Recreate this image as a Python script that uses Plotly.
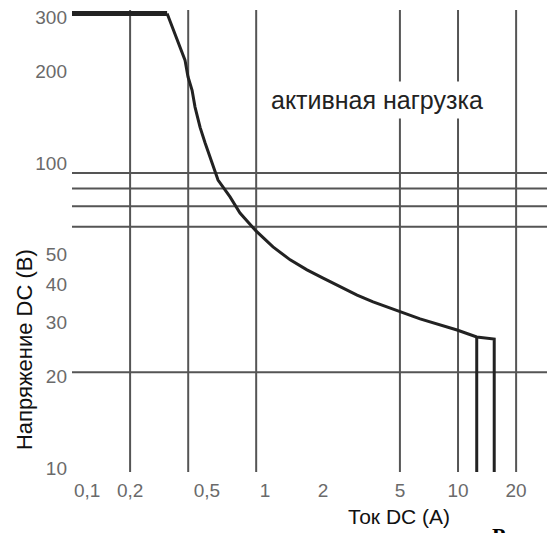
import plotly.graph_objects as go

# Data
current_A = [0.1, 0.311, 0.385, 0.399, 0.419, 0.434, 0.461, 0.489, 0.531, 0.571, 0.659,
             0.742, 0.898, 1.10, 1.35, 1.65, 2.00, 2.45, 3.00, 3.63, 4.44, 5.01, 6.36,
             9.89, 12.5, 15.4, 15.4]
voltage_V = [300, 300, 211, 186, 168, 148, 127, 113, 97.0, 85.3, 75.1,
             66.5, 58.1, 51.5, 46.7, 43.3, 40.7, 38.1, 35.8, 34.0, 32.5, 31.5, 29.9,
             27.5, 26.1, 25.7, 9.4]
branch_A = [12.5, 12.5]
branch_V = [26.1, 9.4]

x_tick_vals = [0.2, 0.5, 1, 2, 5, 10, 20]
x_tick_text = ["0,2", "0,5", "1", "2", "5", "10", "20"]
y_tick_vals = [10, 20, 30, 40, 50, 100, 200, 300]
y_tick_text = ["10", "20", "30", "40", "50", "100", "200", "300"]
grid_x = [0.2, 0.4, 0.9, 5, 10, 20]
grid_y = [20, 60, 70, 80, 90]

x_range = [-1, 1.461]
y_range = [0.9738, 2.4885]

TICK_FONT = dict(family="Liberation Sans, Arial", size=19, color="#6a6a6a")

fig = go.Figure()

fig.add_trace(go.Scatter(x=current_A[:2], y=voltage_V[:2], mode="lines",
                         line=dict(color="#222222", width=5), hoverinfo="skip"))
fig.add_trace(go.Scatter(x=current_A[1:], y=voltage_V[1:], mode="lines",
                         line=dict(color="#222222", width=3), hoverinfo="skip"))
fig.add_trace(go.Scatter(x=branch_A, y=branch_V, mode="lines",
                         line=dict(color="#222222", width=3), hoverinfo="skip"))

shapes = []
for gx in grid_x:
    shapes.append(dict(type="line", xref="x", yref="paper", x0=gx, x1=gx, y0=0, y1=1,
                       line=dict(color="#555555", width=2), layer="below"))
for gy in grid_y:
    shapes.append(dict(type="line", xref="paper", yref="y", x0=0, x1=1, y0=gy, y1=gy,
                       line=dict(color="#555555", width=2), layer="below"))

annotations = [
    dict(text="активная нагрузка", x=0.580, y=2.193, xref="x", yref="y",
         xanchor="center", yanchor="middle",
         showarrow=False, font=dict(family="Liberation Sans, Arial", size=25, color="#222222"),
         bgcolor="white", borderpad=4),
    dict(text="0,1", x=-1, y=0, xref="x", yref="paper", xanchor="left", yanchor="top",
         yshift=-6, showarrow=False, font=TICK_FONT),
    dict(text="Ток DC (A)", x=0.688, y=-0.0974, xref="paper", yref="paper",
         xanchor="center", yanchor="middle",
         showarrow=False, font=dict(family="Liberation Sans, Arial", size=21, color="#111111")),
    dict(text="Напряжение DC (В)", x=-0.101, y=0.264, xref="paper", yref="paper",
         xanchor="center", yanchor="middle",
         textangle=-90, showarrow=False,
         font=dict(family="Liberation Sans, Arial", size=22, color="#111111")),
    dict(text="<b>Р</b>", x=0.88, y=-0.106, xref="paper", yref="paper", xanchor="left", yanchor="top",
         showarrow=False, font=dict(family="Liberation Serif, Times New Roman", size=22, color="#000000")),
]

fig.update_layout(
    width=547, height=533,
    margin=dict(l=72, r=0, t=10, b=61),
    paper_bgcolor="white", plot_bgcolor="white",
    showlegend=False,
    shapes=shapes,
    annotations=annotations,
    xaxis=dict(type="log", range=x_range, showgrid=False, zeroline=False, showline=False,
               tickmode="array", tickvals=x_tick_vals, ticktext=x_tick_text,
               ticks="", tickfont=TICK_FONT, ticklabelstandoff=5),
    yaxis=dict(type="log", range=y_range, showgrid=False, zeroline=False, showline=False,
               tickmode="array", tickvals=y_tick_vals, ticktext=y_tick_text,
               ticks="", tickfont=TICK_FONT, ticklabelstandoff=4, ticklabelshift=4),
)

fig.write_html("out.html", config={"displayModeBar": False},
               post_script="document.body.style.margin='0';document.body.style.overflow='hidden';")
